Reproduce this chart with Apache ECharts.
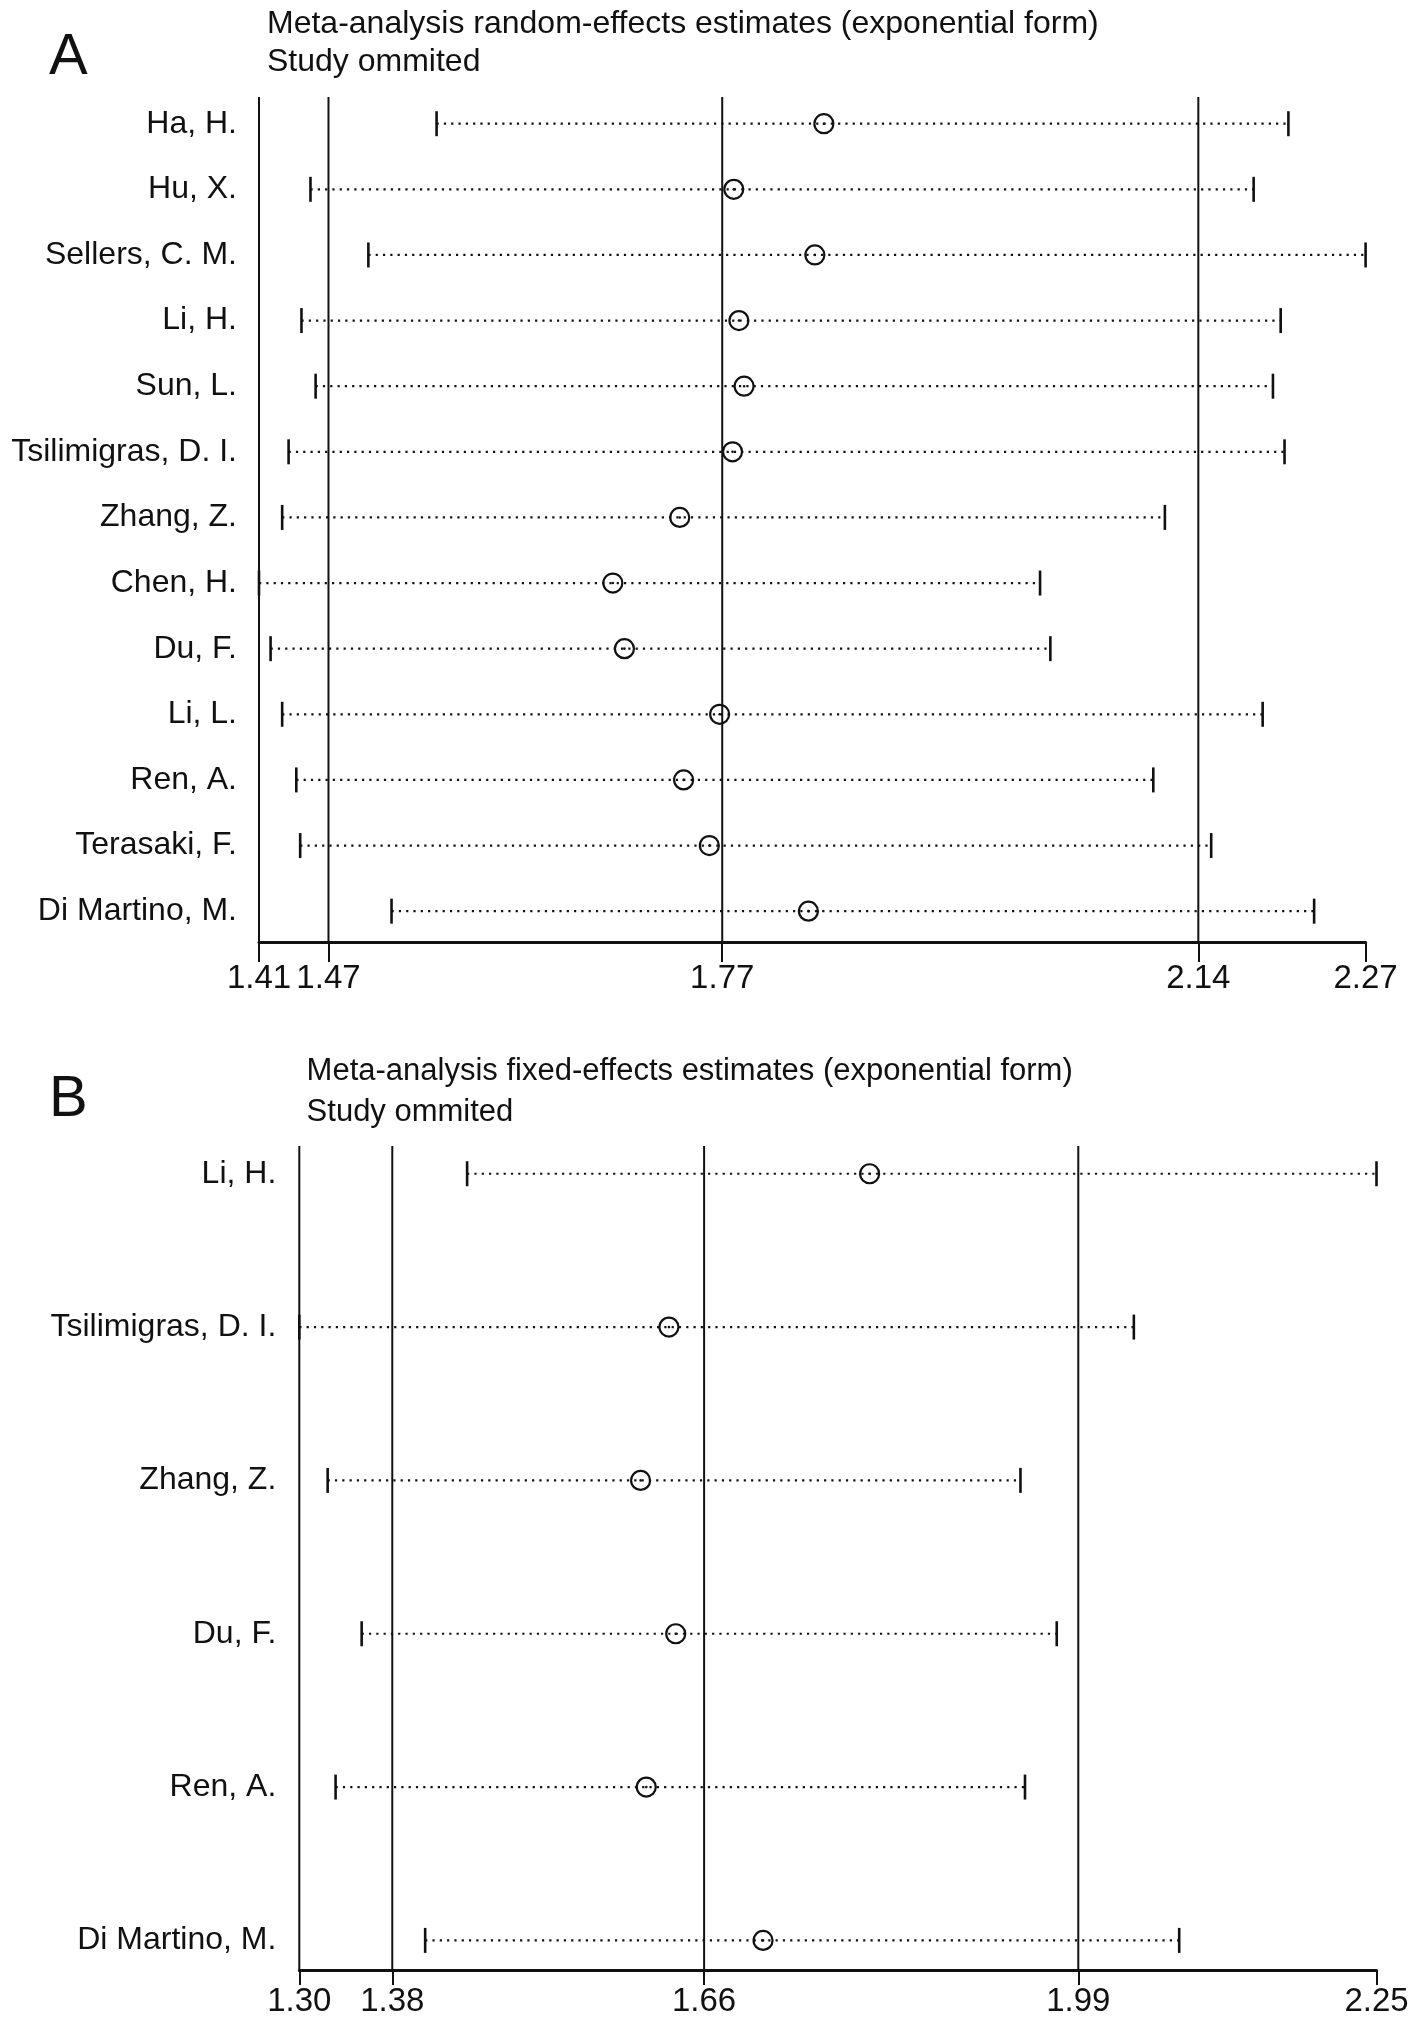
<!DOCTYPE html>
<html><head><meta charset="utf-8">
<script src="https://cdn.jsdelivr.net/npm/echarts@6/dist/echarts.min.js"></script>
<style>html,body{margin:0;padding:0;background:#fff}#c{width:1416px;height:2020px}</style>
</head><body><div id="c"></div>
<script>
// ---------- Panel A: random-effects ----------
const studiesA = ['Ha, H.', 'Hu, X.', 'Sellers, C. M.', 'Li, H.', 'Sun, L.', 'Tsilimigras, D. I.', 'Zhang, Z.', 'Chen, H.', 'Du, F.', 'Li, L.', 'Ren, A.', 'Terasaki, F.', 'Di Martino, M.'];
const lowerA = [1.548, 1.450, 1.495, 1.443, 1.454, 1.433, 1.428, 1.410, 1.419, 1.428, 1.439, 1.442, 1.513];
const estA   = [1.849, 1.779, 1.842, 1.783, 1.787, 1.778, 1.737, 1.685, 1.694, 1.768, 1.740, 1.760, 1.837];
const upperA = [2.210, 2.183, 2.270, 2.204, 2.198, 2.207, 2.114, 2.017, 2.025, 2.190, 2.105, 2.150, 2.230];
const refLinesA = [1.41, 1.464, 1.77, 2.14];
const tickValuesA = [1.41, 1.464, 1.77, 2.14, 2.27];
const tickLabelsA = ['1.41', '1.47', '1.77', '2.14', '2.27'];

// ---------- Panel B: fixed-effects ----------
const studiesB = ['Li, H.', 'Tsilimigras, D. I.', 'Zhang, Z.', 'Du, F.', 'Ren, A.', 'Di Martino, M.'];
const lowerB = [1.448, 1.300, 1.325, 1.355, 1.332, 1.411];
const estB   = [1.803, 1.626, 1.601, 1.632, 1.606, 1.709];
const upperB = [2.250, 2.036, 1.936, 1.968, 1.940, 2.076];
const refLinesB = [1.30, 1.382, 1.657, 1.987];
const tickValuesB = [1.30, 1.382, 1.657, 1.987, 2.25];
const tickLabelsB = ['1.30', '1.38', '1.66', '1.99', '2.25'];

const INK = '#111';
const FONT = "'Liberation Sans', Arial, Helvetica, sans-serif";

function lookup(vals, labels) {
  return function (v) {
    let best = 0, bd = Infinity;
    vals.forEach((t, i) => { const d = Math.abs(t - v); if (d < bd) { bd = d; best = i; } });
    return labels[best];
  };
}

function ciRender(params, api) {
  const y = api.value(0), lo = api.value(1), es = api.value(2), hi = api.value(3);
  const pLo = api.coord([lo, y]), pEs = api.coord([es, y]), pHi = api.coord([hi, y]);
  const capH = 12.5;
  return {
    type: 'group',
    children: [
      { type: 'line', shape: { x1: pLo[0], y1: pLo[1], x2: pHi[0], y2: pHi[1] },
        style: { stroke: INK, lineWidth: 2.2, lineDash: [2.2, 5.1] } },
      { type: 'line', shape: { x1: pLo[0], y1: pLo[1] - capH, x2: pLo[0], y2: pLo[1] + capH },
        style: { stroke: INK, lineWidth: 2.6 } },
      { type: 'line', shape: { x1: pHi[0], y1: pHi[1] - capH, x2: pHi[0], y2: pHi[1] + capH },
        style: { stroke: INK, lineWidth: 2.6 } },
      { type: 'circle', shape: { cx: pEs[0], cy: pEs[1], r: 9.5 },
        style: { fill: 'rgba(0,0,0,0)', stroke: INK, lineWidth: 2.2 } },
      { type: 'circle', shape: { cx: pEs[0], cy: pEs[1], r: 1.3 }, style: { fill: INK } }
    ]
  };
}

function refRender(yMin, yMax) {
  return function (params, api) {
    const v = api.value(0);
    const a = api.coord([v, yMin]), b = api.coord([v, yMax]);
    return { type: 'line', shape: { x1: a[0], y1: a[1], x2: b[0], y2: b[1] },
      style: { stroke: INK, lineWidth: 2 } };
  };
}

const yA = { min: -0.407, max: 12.47 };
const yB = { min: -0.181, max: 5.193 };

function xAxisCfg(gi, min, max, tv, tl, tickLen, margin) {
  return {
    gridIndex: gi, type: 'value', min: min, max: max,
    splitLine: { show: false },
    axisLine: { show: true, onZero: false, lineStyle: { color: INK, width: 3 } },
    axisTick: { show: true, customValues: tv, length: tickLen, lineStyle: { color: INK, width: 2 } },
    axisLabel: { customValues: tv, formatter: lookup(tv, tl), fontSize: 33, color: INK, margin: margin, fontFamily: FONT }
  };
}
function yAxisCfg(gi, range, names, margin) {
  return {
    gridIndex: gi, type: 'value', inverse: true, min: range.min, max: range.max,
    axisLine: { show: false }, axisTick: { show: false }, splitLine: { show: false },
    axisLabel: { customValues: names.map((_, i) => i), formatter: v => names[Math.round(v)] || '',
      fontSize: 32, color: INK, margin: margin, fontFamily: FONT }
  };
}

const option = {
  backgroundColor: '#fff',
  animation: false,
  textStyle: { fontFamily: FONT },
  grid: [
    { left: 259, top: 97, width: 1106.6, height: 845, containLabel: false },
    { left: 299.3, top: 1146, width: 1077.2, height: 824, containLabel: false }
  ],
  xAxis: [
    xAxisCfg(0, 1.41, 2.27, tickValuesA, tickLabelsA, 20, 20),
    xAxisCfg(1, 1.30, 2.25, tickValuesB, tickLabelsB, 15, 15)
  ],
  yAxis: [
    yAxisCfg(0, yA, studiesA, 22),
    yAxisCfg(1, yB, studiesB, 23)
  ],
  graphic: [
    { type: 'text', x: 49, y: 58, style: { text: 'A', font: '58px ' + FONT, fill: INK, verticalAlign: 'middle', textVerticalAlign: 'middle' } },
    { type: 'text', x: 267, y: 24, style: { text: 'Meta-analysis random-effects estimates (exponential form)', font: '32px ' + FONT, fill: INK, verticalAlign: 'middle', textVerticalAlign: 'middle' } },
    { type: 'text', x: 267, y: 62, style: { text: 'Study ommited', font: '32px ' + FONT, fill: INK, verticalAlign: 'middle', textVerticalAlign: 'middle' } },
    { type: 'text', x: 49, y: 1100, style: { text: 'B', font: '58px ' + FONT, fill: INK, verticalAlign: 'middle', textVerticalAlign: 'middle' } },
    { type: 'text', x: 306.6, y: 1071, style: { text: 'Meta-analysis fixed-effects estimates (exponential form)', font: '31px ' + FONT, fill: INK, verticalAlign: 'middle', textVerticalAlign: 'middle' } },
    { type: 'text', x: 306.6, y: 1112, style: { text: 'Study ommited', font: '31px ' + FONT, fill: INK, verticalAlign: 'middle', textVerticalAlign: 'middle' } }
  ],
  series: [
    { type: 'custom', xAxisIndex: 0, yAxisIndex: 0, renderItem: refRender(yA.min, yA.max),
      data: refLinesA.map(v => [v]), silent: true, clip: false },
    { type: 'custom', xAxisIndex: 0, yAxisIndex: 0, renderItem: ciRender, silent: true, clip: false,
      encode: { x: [1, 2, 3], y: 0 },
      data: studiesA.map((_, i) => [i, lowerA[i], estA[i], upperA[i]]) },
    { type: 'custom', xAxisIndex: 1, yAxisIndex: 1, renderItem: refRender(yB.min, yB.max),
      data: refLinesB.map(v => [v]), silent: true, clip: false },
    { type: 'custom', xAxisIndex: 1, yAxisIndex: 1, renderItem: ciRender, silent: true, clip: false,
      encode: { x: [1, 2, 3], y: 0 },
      data: studiesB.map((_, i) => [i, lowerB[i], estB[i], upperB[i]]) }
  ]
};

const chart = echarts.init(document.getElementById('c'), null, { renderer: 'canvas' });
chart.setOption(option);
</script>
</body></html>
